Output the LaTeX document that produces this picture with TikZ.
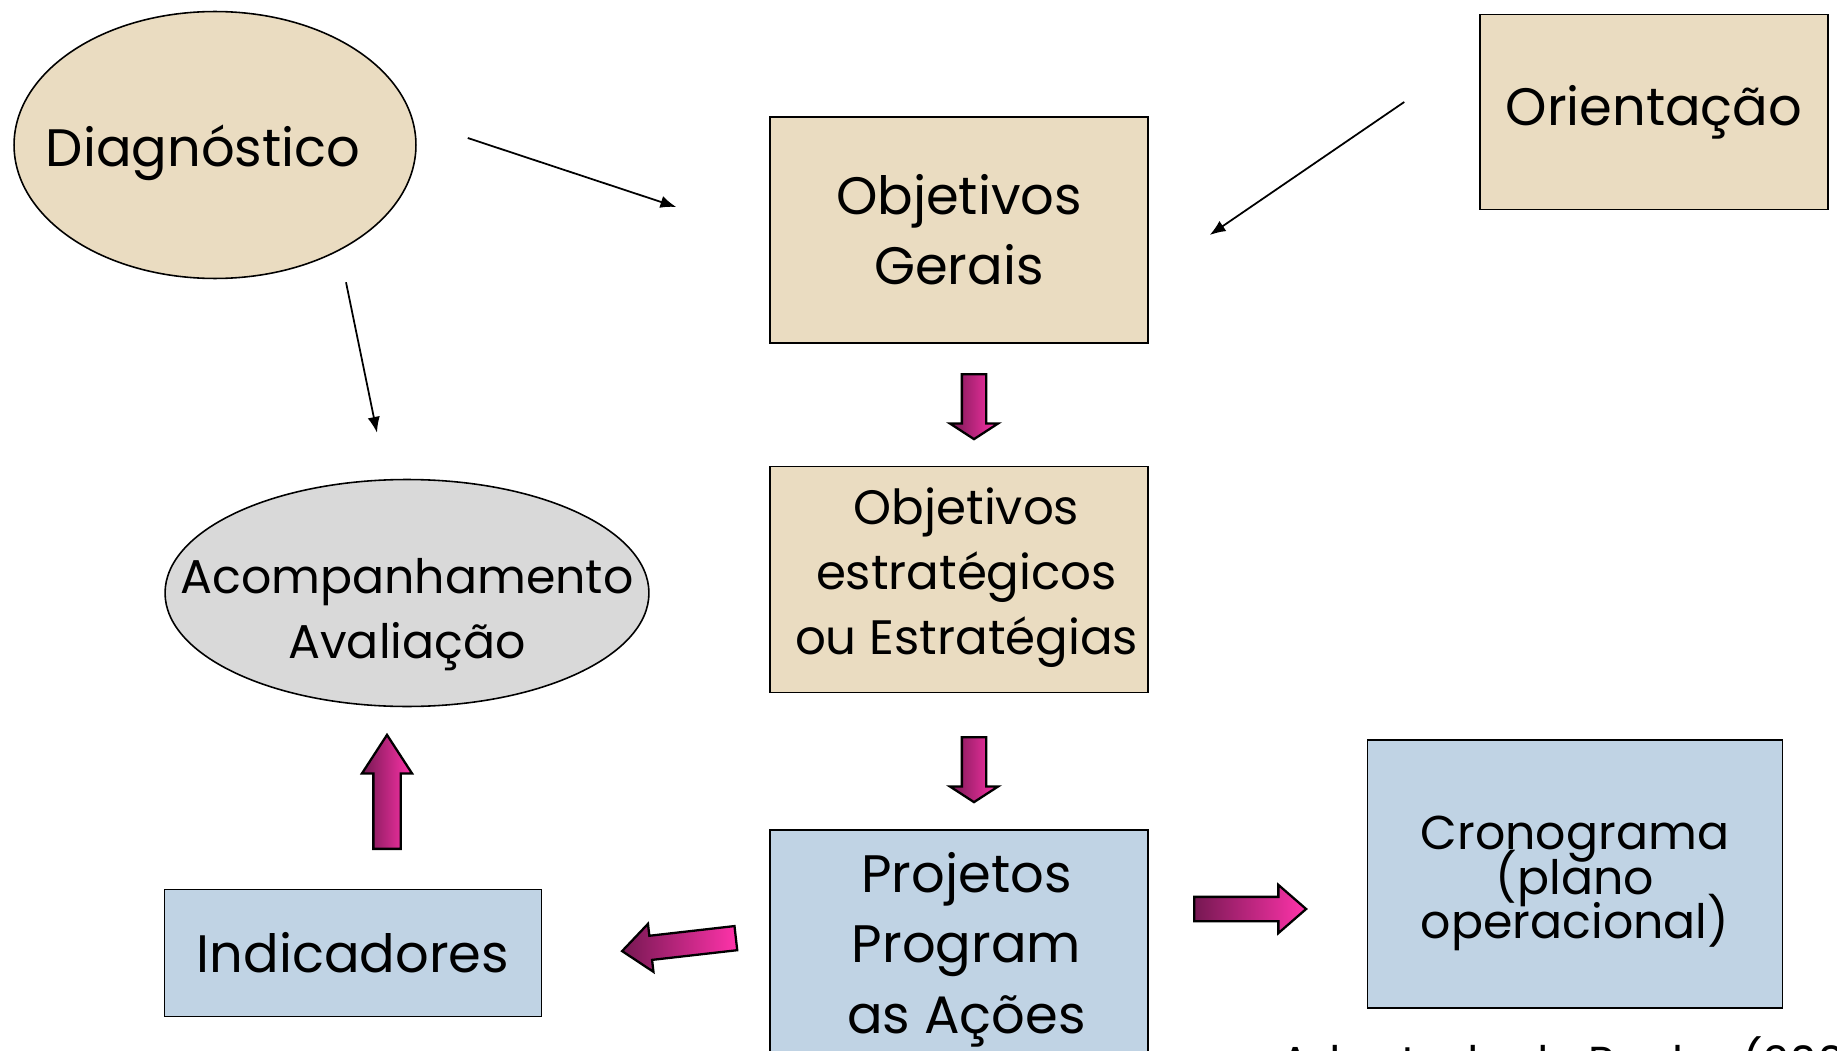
\documentclass[tikz,border=0pt]{standalone}
\usepackage{fontspec}
\setmainfont{Poppins}
\usetikzlibrary{positioning}
\usetikzlibrary{arrows.meta,shapes,shapes.arrows}

\definecolor{bege}{RGB}{234,220,193}
\definecolor{azul}{RGB}{192,211,228}
\definecolor{cinza}{RGB}{217,217,217}
\definecolor{rosa}{RGB}{255,51,170}
\definecolor{vinho}{RGB}{118,24,82}

\lineskiplimit=-20pt

\begin{document}
\begin{tikzpicture}[x=0.02cm,y=-0.02cm,
    caixa/.style={rectangle,draw,line width=0.9pt,align=center,inner sep=0pt,font=\fontsize{30}{40}\selectfont},
    bola/.style={ellipse,draw,line width=0.9pt,inner sep=0pt},
    rotulo/.style={align=center,inner sep=0pt,font=\fontsize{30}{37}\selectfont},
    seta/.style={-{Latex[length=9pt,width=7pt]},line width=1pt},
    bloco/.style={single arrow,anchor=tail,draw=black,line width=1.3pt,inner xsep=0pt,left color=vinho,right color=rosa}]

    \useasboundingbox (0,0) rectangle (1837,1051);

		\node[bola][fill=bege,minimum width=8.04cm,minimum height=5.34cm,label={[rotulo,xshift=-0.24cm,yshift=-0.16cm]center:Diagnóstico}](diag) at (215,145){};
		\node[caixa][fill=bege,minimum width=7.56cm,minimum height=4.52cm](gerais) at (959,230){Objetivos\\Gerais};
		\node[caixa][fill=bege,minimum width=6.96cm,minimum height=3.9cm](orient) at (1654,112){Orientação};
		\node[caixa][fill=bege,minimum width=7.56cm,minimum height=4.52cm,label={[rotulo,font=\fontsize{27.5}{37}\selectfont,xshift=0.15cm,yshift=0.04cm]center:Objetivos\\estratégicos\\ou Estratégias}](estrat)[below = 2.44cm of gerais]{};
		\node[caixa][fill=azul,minimum width=7.56cm,minimum height=4.52cm,label={[rotulo,font=\fontsize{30}{40}\selectfont,xshift=0.15cm,yshift=-0.13cm]center:Projetos\\Program\\as Ações}](proj)[below = 2.72cm of estrat]{};
		\node[bola][fill=cinza,minimum width=9.68cm,minimum height=4.54cm,label={[rotulo,font=\fontsize{27}{37}\selectfont,yshift=-0.43cm]center:Acompanhamento\\Avaliação}](acomp) at (407,593){};
		\node[caixa][fill=azul,minimum width=7.54cm,minimum height=2.54cm](indic) at (353,953){Indicadores};
		\node[caixa][fill=azul,minimum width=8.3cm,minimum height=5.36cm,label={[rotulo,font=\fontsize{27}{25.5}\selectfont,yshift=-0.19cm]center:Cronograma\\(plano\\operacional)}](crono) at (1575,874){};
		\node[anchor=base west,inner sep=0pt,font=\fontsize{25.5}{30}\selectfont](fonte) at (1280,1078){Adaptado de Rocha (2002)};

		% setas largas
		\node[bloco][minimum height=1.3cm,inner ysep=0.22cm,single arrow head extend=0.24cm,single arrow tip angle=114,rotate=-90](arrA) at (974,373){};
		\node[bloco][minimum height=1.3cm,inner ysep=0.22cm,single arrow head extend=0.24cm,single arrow tip angle=114,rotate=-90](arrB) at (974,736){};
		\node[bloco][minimum height=2.28cm,inner ysep=0.25cm,single arrow head extend=0.23cm,single arrow tip angle=66,rotate=90](arrC) at (387,850){};
		\node[bloco][minimum height=2.29cm,inner ysep=0.22cm,single arrow head extend=0.24cm,single arrow tip angle=80,rotate=186.5](arrD) at (737,938){};
		\node[bloco][minimum height=2.24cm,inner ysep=0.22cm,single arrow head extend=0.24cm,single arrow tip angle=82](arrE) at (1193,909){};

		% setas finas
		\path [seta] ([shift={(51,-7)}]diag.east) edge ([shift={(-93,-23)}]gerais.west);
		\path [seta] ([shift={(-75,-10)}]orient.west) edge ([shift={(61,5)}]gerais.east);
		\path [seta] ([shift={(131,3)}]diag.south) edge ([shift={(-30,-46)}]acomp.north);

\end{tikzpicture}
\end{document}
